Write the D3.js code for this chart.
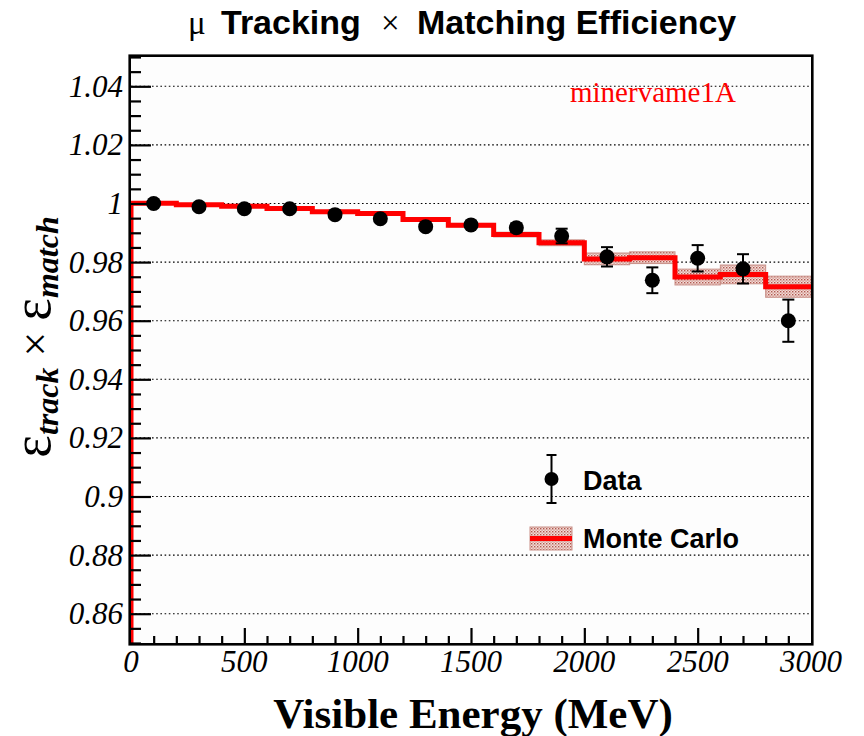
<!DOCTYPE html>
<html>
<head>
<meta charset="utf-8">
<script src="https://cdn.jsdelivr.net/npm/d3@7"></script>
<style>
  html, body { margin: 0; padding: 0; background: #ffffff; }
  svg { display: block; }
</style>
</head>
<body>
<svg id="chart" width="864" height="736"></svg>
<script>
// Visible-energy bins (MeV), 200 MeV wide
const binLow = [0, 200, 400, 600, 800, 1000, 1200, 1400, 1600, 1800, 2000, 2200, 2400, 2600, 2800];
const binWidth = 200;

// Data: efficiency and statistical error per bin
const dataEff = [1.0000, 0.9989, 0.9982, 0.9982, 0.9962, 0.9948, 0.9921, 0.9927,
                 0.9917, 0.9889, 0.9818, 0.9738, 0.9813, 0.9777, 0.9600];
const dataErr = [0.0003, 0.0004, 0.0005, 0.0005, 0.0006, 0.0008, 0.0009, 0.0011,
                 0.0015, 0.0025, 0.0033, 0.0044, 0.0045, 0.0050, 0.0072];

// Monte Carlo: efficiency and error band per bin
const mcEff = [1.0001, 0.9996, 0.9991, 0.9983, 0.9972, 0.9966, 0.9945, 0.9926,
               0.9894, 0.9866, 0.9811, 0.9815, 0.9749, 0.9758, 0.9716];
const mcErr = [0.0002, 0.0002, 0.0003, 0.0003, 0.0004, 0.0004, 0.0005, 0.0006,
               0.0008, 0.0010, 0.0020, 0.0020, 0.0027, 0.0032, 0.0036];

// Axis ticks
const xMajorTicks = [0, 500, 1000, 1500, 2000, 2500, 3000];
const xTickLabels = ["0", "500", "1000", "1500", "2000", "2500", "3000"];
const yMajorTicks = [0.86, 0.88, 0.90, 0.92, 0.94, 0.96, 0.98, 1.00, 1.02, 1.04];
const yTickLabels = ["0.86", "0.88", "0.9", "0.92", "0.94", "0.96", "0.98", "1", "1.02", "1.04"];

const svg = d3.select("#chart");
const L = 131, R = 811, T = 57, B = 643;

const x = d3.scaleLinear().domain([0, 3000]).range([L, R]);
const y = d3.scaleLinear().domain([0.85, 1.05]).range([B, T]);

// hatched fill for the MC error band
const defs = svg.append("defs");
const pat = defs.append("pattern")
  .attr("id", "mcHatch").attr("patternUnits", "userSpaceOnUse")
  .attr("width", 3).attr("height", 3);
pat.append("rect").attr("width", 3).attr("height", 3).attr("fill", "#f3dcd8");
pat.append("rect").attr("x", 0).attr("y", 0).attr("width", 1.4).attr("height", 1.4).attr("fill", "#b0584e");
pat.append("rect").attr("x", 1.5).attr("y", 1.5).attr("width", 1.2).attr("height", 1.2).attr("fill", "#c47a70");

defs.append("clipPath").attr("id", "plotClip")
  .append("rect").attr("x", L).attr("y", T).attr("width", R - L).attr("height", B - T);

// plot area background
svg.append("rect").attr("x", L).attr("y", T).attr("width", R - L).attr("height", B - T)
  .attr("fill", "#fdfdfd");

// horizontal dotted grid at major y ticks
svg.append("g").selectAll("line").data(yMajorTicks).join("line")
  .attr("x1", L).attr("x2", R)
  .attr("y1", d => y(d)).attr("y2", d => y(d))
  .attr("stroke", "#000").attr("stroke-width", 1.1)
  .attr("stroke-dasharray", "1.6,2.6");

const plot = svg.append("g").attr("clip-path", "url(#plotClip)");

// MC error band
plot.append("g").selectAll("rect").data(binLow).join("rect")
  .attr("x", d => x(d))
  .attr("width", d => x(d + binWidth) - x(d))
  .attr("y", (d, i) => y(mcEff[i] + mcErr[i]))
  .attr("height", (d, i) => y(mcEff[i] - mcErr[i]) - y(mcEff[i] + mcErr[i]))
  .attr("fill", "url(#mcHatch)")
  .attr("stroke", "#c99088").attr("stroke-width", 1);

// MC step histogram, rising from the bottom of the frame
const stepPts = [[x(0), y(0.85)]];
binLow.forEach((d, i) => {
  stepPts.push([x(d), y(mcEff[i])]);
  stepPts.push([x(d + binWidth), y(mcEff[i])]);
});
plot.append("path")
  .attr("d", d3.line()(stepPts))
  .attr("fill", "none").attr("stroke", "#ff0000").attr("stroke-width", 5)
  .attr("stroke-linejoin", "miter");

// Data points with error bars
const pts = svg.append("g");
binLow.forEach((d, i) => {
  const cx = x(d + binWidth / 2);
  const yHi = y(dataEff[i] + dataErr[i]);
  const yLo = y(dataEff[i] - dataErr[i]);
  pts.append("line").attr("x1", cx).attr("x2", cx).attr("y1", yHi).attr("y2", yLo)
    .attr("stroke", "#000").attr("stroke-width", 2);
  pts.append("line").attr("x1", cx - 6).attr("x2", cx + 6).attr("y1", yHi).attr("y2", yHi)
    .attr("stroke", "#000").attr("stroke-width", 2);
  pts.append("line").attr("x1", cx - 6).attr("x2", cx + 6).attr("y1", yLo).attr("y2", yLo)
    .attr("stroke", "#000").attr("stroke-width", 2);
  pts.append("circle").attr("cx", cx).attr("cy", y(dataEff[i])).attr("r", 7.5).attr("fill", "#000");
});

// Axes: ticks drawn inside the frame
const yMinor = d3.range(0, 41).map(k => 0.85 + k * 0.005)
  .filter(v => !yMajorTicks.some(m => Math.abs(m - v) < 1e-9));
const xMinor = d3.range(0, 31).map(k => k * 100).filter(v => v % 500 !== 0);

svg.append("g").attr("transform", `translate(${L},0)`)
  .call(d3.axisRight(y).tickValues(yMajorTicks).tickSize(20).tickFormat(""));
svg.append("g").attr("transform", `translate(${L},0)`)
  .call(d3.axisRight(y).tickValues(yMinor).tickSize(10).tickFormat(""));
svg.append("g").attr("transform", `translate(0,${B})`)
  .call(d3.axisTop(x).tickValues(xMajorTicks.slice(1, -1)).tickSize(15).tickFormat(""));
svg.append("g").attr("transform", `translate(0,${B})`)
  .call(d3.axisTop(x).tickValues(xMinor).tickSize(7).tickFormat(""));
svg.selectAll(".domain").remove();
svg.selectAll(".tick line").attr("stroke", "#000").attr("stroke-width", 2.2);

// frame
svg.append("rect").attr("x", L - 1.3).attr("y", T - 1.3)
  .attr("width", R - L + 2.6).attr("height", B - T + 2.6)
  .attr("fill", "none").attr("stroke", "#000").attr("stroke-width", 2.6);

// tick labels
svg.append("g").selectAll("text").data(yMajorTicks).join("text")
  .attr("x", 123).attr("y", d => y(d) + 10.5)
  .attr("text-anchor", "end")
  .attr("font-family", "'Liberation Serif', 'DejaVu Serif', serif")
  .attr("font-style", "italic").attr("font-size", 31)
  .text((d, i) => yTickLabels[i]);
svg.append("g").selectAll("text").data(xMajorTicks).join("text")
  .attr("x", d => x(d)).attr("y", 672)
  .attr("text-anchor", "middle")
  .attr("font-family", "'Liberation Serif', 'DejaVu Serif', serif")
  .attr("font-style", "italic").attr("font-size", 31)
  .text((d, i) => xTickLabels[i]);

// x-axis title
svg.append("text").attr("x", 473).attr("y", 728)
  .attr("text-anchor", "middle")
  .attr("font-family", "'Liberation Serif', serif").attr("font-weight", "bold")
  .attr("font-size", 43)
  .text("Visible Energy (MeV)");

// y-axis title: ε_track × ε_match
const yt = svg.append("text")
  .attr("transform", "translate(50,337) rotate(-90)")
  .attr("text-anchor", "middle")
  .attr("font-family", "'Liberation Serif', serif");
yt.append("tspan").attr("font-size", 54).text("ε");
yt.append("tspan").attr("font-size", 32).attr("font-weight", "bold").attr("font-style", "italic")
  .attr("dy", 8).text("track");
yt.append("tspan").attr("font-size", 44).attr("dy", -8).text(" × ");
yt.append("tspan").attr("font-size", 54).text("ε");
yt.append("tspan").attr("font-size", 32).attr("font-weight", "bold").attr("font-style", "italic")
  .attr("dy", 8).text("match");

// title
const title = svg.append("text").attr("y", 34)
  .attr("font-family", "'Liberation Sans', Arial, sans-serif").attr("font-size", 34);
title.append("tspan").attr("x", 188).attr("font-family", "'Liberation Serif', serif").attr("font-size", 33).text("μ");
title.append("tspan").attr("x", 221).attr("font-weight", "bold").text("Tracking");
title.append("tspan").attr("x", 381).attr("font-family", "'Liberation Serif', serif").attr("font-size", 33).text("×");
title.append("tspan").attr("x", 417).attr("font-weight", "bold").text("Matching Efficiency");

// sample label
svg.append("text").attr("x", 570).attr("y", 102)
  .attr("font-family", "'Liberation Serif', serif").attr("font-size", 29)
  .attr("fill", "#ff0000").text("minervame1A");

// legend
const lg = svg.append("g");
const lx = 551.5, ly = 479;
lg.append("line").attr("x1", lx).attr("x2", lx).attr("y1", 455).attr("y2", 503)
  .attr("stroke", "#000").attr("stroke-width", 2);
lg.append("line").attr("x1", lx - 5).attr("x2", lx + 5).attr("y1", 455).attr("y2", 455)
  .attr("stroke", "#000").attr("stroke-width", 2);
lg.append("line").attr("x1", lx - 5).attr("x2", lx + 5).attr("y1", 503).attr("y2", 503)
  .attr("stroke", "#000").attr("stroke-width", 2);
lg.append("circle").attr("cx", lx).attr("cy", ly).attr("r", 7).attr("fill", "#000");
lg.append("text").attr("x", 583).attr("y", 490)
  .attr("font-family", "'Liberation Sans', Arial, sans-serif").attr("font-weight", "bold")
  .attr("font-size", 27).text("Data");
lg.append("rect").attr("x", 530).attr("y", 527).attr("width", 42).attr("height", 23)
  .attr("fill", "url(#mcHatch)").attr("stroke", "#c99088").attr("stroke-width", 1);
lg.append("line").attr("x1", 530).attr("x2", 572).attr("y1", 538.5).attr("y2", 538.5)
  .attr("stroke", "#ff0000").attr("stroke-width", 5);
lg.append("text").attr("x", 583).attr("y", 548)
  .attr("font-family", "'Liberation Sans', Arial, sans-serif").attr("font-weight", "bold")
  .attr("font-size", 27).text("Monte Carlo");
</script>
</body>
</html>
